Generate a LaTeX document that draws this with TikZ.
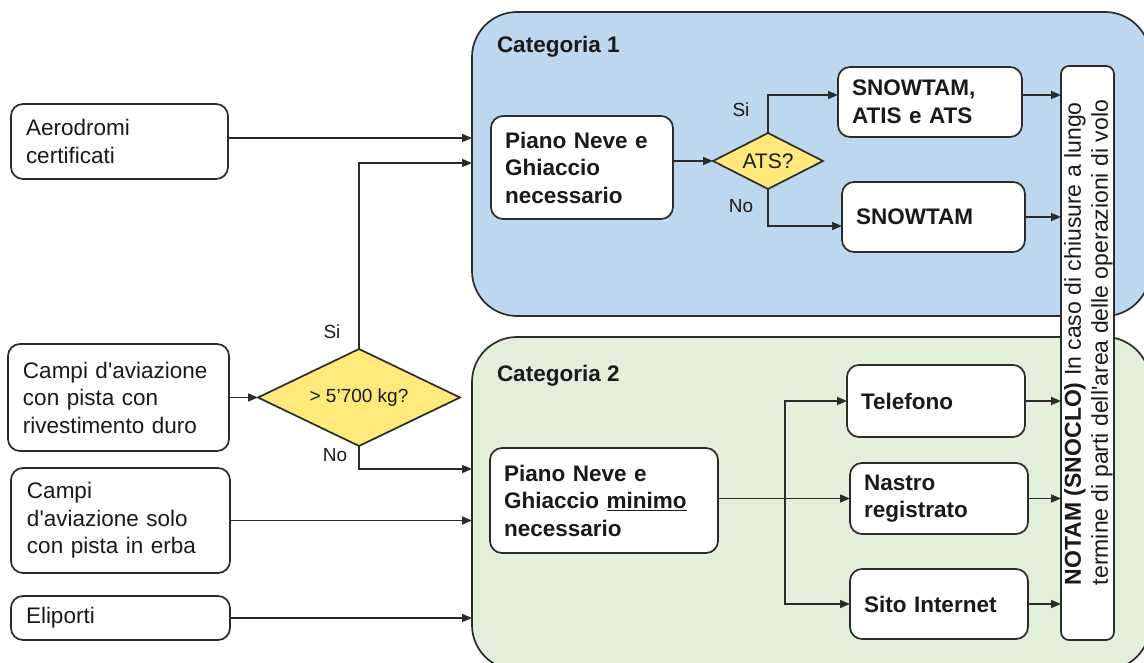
\documentclass[tikz,border=0pt]{standalone}
\usepackage{fontspec}
\setmainfont{Liberation Sans}
\usetikzlibrary{shapes.geometric,arrows.meta}
\definecolor{lc}{HTML}{2B2B2B}
\definecolor{tc}{HTML}{1A1A1A}
\definecolor{catA}{HTML}{BDD7EE}
\definecolor{catB}{HTML}{E2EFDA}
\definecolor{dy}{HTML}{FFE97A}
\newcommand\mfont{\fontsize{22.5}{27.5}\selectfont}
\newcommand\sfont{\fontsize{19}{23}\selectfont}
\newcommand\ap{\textquotesingle}
\begin{document}
\begin{tikzpicture}[x=1pt,y=-1pt,
 every node/.style={inner sep=0pt, outer sep=0pt, text=tc},
 lbox/.style={draw=lc, line width=1.7pt, rounded corners=12pt, fill=white, align=left, inner xsep=15pt, font=\mfont},
 bbox/.style={lbox, inner xsep=14pt, font=\mfont\bfseries},
 cat/.style={draw=lc, line width=1.7pt, rounded corners=45pt},
 dec/.style={diamond, shape aspect=2, draw=lc, line width=1.7pt, fill=dy, inner sep=0pt},
 arr/.style={draw=lc, line width=1.6pt, -{Triangle[length=10pt,width=8pt]}},
 lab/.style={font=\sfont},
]
\useasboundingbox (0,0) rectangle (1144,663);
\fill[white] (0,0) rectangle (1144,663);
\clip (0,0) rectangle (1144,663);

% category panels
\node[cat, fill=catA, minimum width=678pt, minimum height=304pt] (cat1) at (811,164) {};
\node[cat, fill=catB, minimum width=678pt, minimum height=333pt] (cat2) at (811,503.5) {};
\node[anchor=base west, font=\mfont\bfseries] (c1l) at (497,53) {Categoria 1};
\node[anchor=base west, font=\mfont\bfseries] (c2l) at (497,381) {Categoria 2};

% NOTAM column
\node[draw=lc, line width=1.7pt, rounded corners=8pt, fill=white, minimum width=53pt, minimum height=574pt] (notam) at (1087.5,353) {};
\node[rotate=90, align=left, font=\fontsize{23}{27}\selectfont] (notamt) at (1088.5,342.5)
 {\textbf{NOTAM (SNOCLO)} In caso di chiusure a lungo\\termine di parti dell\ap area delle operazioni di volo};

% left boxes
\node[lbox, text width=187pt, minimum height=75pt] (aero) at (119.5,141.5) {Aerodromi\\certificati};
\node[lbox, text width=191pt, minimum height=107pt] (campi) at (118.5,397.5) {Campi d\ap aviazione\\con pista con\\rivestimento duro};
\node[lbox, minimum height=105pt, inner xsep=16pt, text width=187pt] (erba) at (120.5,520.5) {Campi\\d\ap aviazione solo\\con pista in erba};
\node[lbox, text width=189pt, minimum height=44pt] (eli) at (120.5,618) {Eliporti};

% decision weight
\node[dec, minimum width=202pt, minimum height=97pt, font=\sfont] (d1) at (359,397.5) {> 5’700 kg?};
\node[lab] (si1) at (332,332) {Si};
\node[lab] (no1) at (335,455) {No};

% category 1 content
\node[bbox, text width=154pt, minimum height=103pt] (p1) at (582,167.5) {Piano Neve e\\Ghiaccio\\necessario};
\node[dec, minimum width=110pt, minimum height=56pt, font=\fontsize{21}{25}\selectfont] (ats) at (768,161) {ATS?};
\node[bbox, text width=156pt, minimum height=70pt] (snowatis) at (930,102) {SNOWTAM,\\ATIS e ATS};
\node[bbox, text width=155pt, minimum height=70pt] (snow) at (933.5,217) {SNOWTAM};
\node[lab] (si2) at (741,110) {Si};
\node[lab] (no2) at (741,206) {No};

% category 2 content
\node[bbox, text width=200pt, minimum height=105pt] (p2) at (604,500.5) {Piano Neve e\\Ghiaccio \underline{minimo}\\necessario};
\node[bbox, text width=150pt, minimum height=72pt] (tel) at (936,401) {Telefono};
\node[bbox, text width=150pt, minimum height=71pt] (nastro) at (939,498.5) {Nastro\\registrato};
\node[bbox, text width=150pt, minimum height=70pt] (sito) at (939,604) {Sito Internet};

% connectors from the left
\coordinate (in1) at (472,163);
\coordinate (in2) at (472,469);
\draw[arr] ([yshift=3.5pt]aero.east) -- ([yshift=3.5pt]aero.east -| cat1.west);
\draw[arr] (campi.east) -- (d1.west);
\draw[arr] (d1.north) |- (in1);
\draw[arr] (d1.south) |- (in2);
\draw[arr] (erba.east) -- (erba.east -| cat2.west);
\draw[arr] (eli.east) -- (eli.east -| cat2.west);

% category 1 connectors
\draw[arr] (p1.east |- ats.west) -- (ats.west);
\draw[arr] (ats.north) |- ([yshift=7pt]snowatis.west);
\draw[arr] (ats.south) |- ([yshift=-9pt]snow.west);
\draw[arr] ([yshift=7pt]snowatis.east) -- ([yshift=7pt]snowatis.east -| notam.west);
\draw[arr] (snow.east) -- (snow.east -| notam.west);

% category 2 connectors
\coordinate (jx) at (785,498.5);
\draw[arr] (p2.east |- nastro.west) -- (nastro.west);
\draw[arr] (jx) |- (tel.west);
\draw[arr] (jx) |- (sito.west);
\draw[arr] (tel.east) -- (tel.east -| notam.west);
\draw[arr] (nastro.east) -- (nastro.east -| notam.west);
\draw[arr] (sito.east) -- (sito.east -| notam.west);
\end{tikzpicture}
\end{document}
